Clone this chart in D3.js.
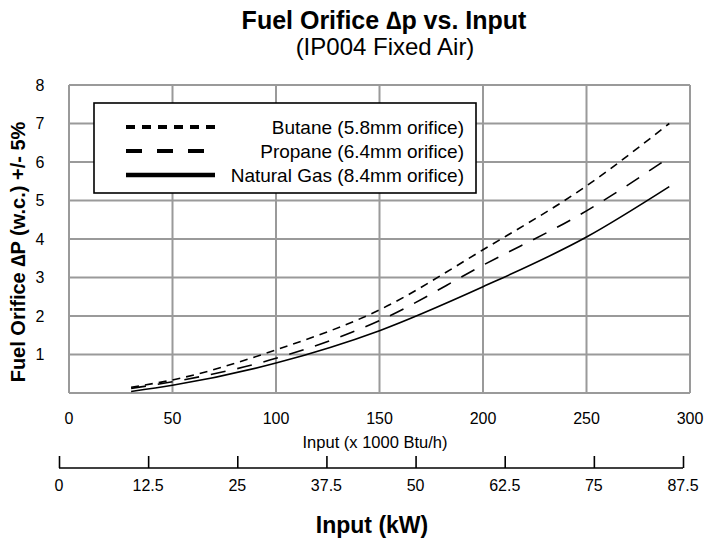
<!DOCTYPE html>
<html><head><meta charset="utf-8">
<script src="https://cdn.jsdelivr.net/npm/d3@7/dist/d3.min.js"></script>
<style>body{margin:0;background:#fff}svg{display:block;font-family:"Liberation Sans",Arial,sans-serif}</style>
</head><body><svg id="c" width="704" height="540"></svg>
<script>
// ---- data ----
const inputs = [30, 50, 100, 150, 200, 250, 290];           // x 1000 Btu/h
const butane = [0.15, 0.34, 1.12, 2.16, 3.72, 5.38, 7.0];
const propane = [0.12, 0.29, 0.90, 1.88, 3.32, 4.73, 6.12];
const naturalGas = [0.04, 0.20, 0.78, 1.62, 2.76, 4.05, 5.36];
const seriesNames = ["Butane (5.8mm orifice)", "Propane (6.4mm orifice)", "Natural Gas (8.4mm orifice)"];
const xTicks = [0, 50, 100, 150, 200, 250, 300];
const yTicks = [1, 2, 3, 4, 5, 6, 7, 8];
const kwTicks = [0, 12.5, 25, 37.5, 50, 62.5, 75, 87.5];

const svg = d3.select("#c");
const x = d3.scaleLinear().domain([0, 300]).range([69, 690]);
const y = d3.scaleLinear().domain([0, 8]).range([393, 85]);
const kw = d3.scaleLinear().domain([0, 87.5]).range([59, 683]);

const styles = [
  {dash: "8,6", legDash: "9,7", w: 1.6, lw: 4},
  {dash: "15,12", legDash: "16,15", w: 1.6, lw: 4},
  {dash: null, legDash: null, w: 1.6, lw: 4.5}
];
const series = [butane, propane, naturalGas].map((v, i) => ({
  name: seriesNames[i], pts: inputs.map((q, j) => [q, v[j]]), st: styles[i]
}));

// grid
const grid = svg.append("g").attr("stroke", "#9a9a9a").attr("stroke-width", 2);
grid.selectAll("line.v").data(xTicks).join("line")
  .attr("x1", d => x(d)).attr("x2", d => x(d)).attr("y1", y(0)).attr("y2", y(8));
grid.selectAll("line.h").data([0].concat(yTicks)).join("line")
  .attr("x1", x(0)).attr("x2", x(300)).attr("y1", d => y(d)).attr("y2", d => y(d));

// y axis labels
svg.append("g").selectAll("text").data(yTicks).join("text")
  .attr("x", 40).attr("y", d => y(d)).attr("dy", "0.35em")
  .attr("text-anchor", "middle").attr("font-size", 16).text(d => d);
// x axis labels
svg.append("g").selectAll("text").data(xTicks).join("text")
  .attr("x", d => x(d)).attr("y", 424)
  .attr("text-anchor", "middle").attr("font-size", 16).text(d => d);

// lines
const line = d3.line().x(d => x(d[0])).y(d => y(d[1])).curve(d3.curveMonotoneX);
svg.append("g").selectAll("path").data(series).join("path")
  .attr("d", d => line(d.pts)).attr("fill", "none").attr("stroke", "#000")
  .attr("stroke-width", d => d.st.w).attr("stroke-dasharray", d => d.st.dash);

// legend
const lg = svg.append("g");
lg.append("rect").attr("x", 94).attr("y", 103).attr("width", 382).attr("height", 90)
  .attr("fill", "#fff").attr("stroke", "#000").attr("stroke-width", 1.6);
const rows = [127, 151, 175];
lg.selectAll("line").data(series).join("line")
  .attr("x1", 126).attr("x2", 215).attr("y1", (d, i) => rows[i]).attr("y2", (d, i) => rows[i])
  .attr("stroke", "#000").attr("stroke-width", d => d.st.lw).attr("stroke-dasharray", d => d.st.legDash);
lg.selectAll("text").data(series).join("text")
  .attr("x", 464).attr("y", (d, i) => rows[i]).attr("dy", "0.35em")
  .attr("text-anchor", "end").attr("font-size", 19).text(d => d.name);

// titles
svg.append("text").attr("x", 384).attr("y", 29).attr("text-anchor", "middle")
  .attr("font-size", 25).attr("font-weight", "bold").text("Fuel Orifice \u2206p vs. Input");
svg.append("text").attr("x", 385).attr("y", 55).attr("text-anchor", "middle")
  .attr("font-size", 24).text("(IP004 Fixed Air)");
svg.append("text").attr("transform", "translate(25,252) rotate(-90)").attr("text-anchor", "middle")
  .attr("font-size", 20).attr("font-weight", "bold").text("Fuel Orifice \u2206P (w.c.) +/- 5%");
svg.append("text").attr("x", 375).attr("y", 448).attr("text-anchor", "middle")
  .attr("font-size", 16.5).text("Input (x 1000 Btu/h)");

// kW axis
const kwAxis = svg.append("g").attr("transform", "translate(0,468)")
  .call(d3.axisTop(kw).tickValues(kwTicks).tickSize(12).tickFormat(""));
kwAxis.select(".domain").attr("stroke-width", 1.6).attr("d", `M${kw(0)},0H${kw(87.5)}`);
kwAxis.selectAll(".tick line").attr("stroke-width", 1.6);
svg.append("g").selectAll("text").data(kwTicks).join("text")
  .attr("x", d => kw(d)).attr("y", 491).attr("text-anchor", "middle")
  .attr("font-size", 16).text(d => d);
svg.append("text").attr("x", 372).attr("y", 533).attr("text-anchor", "middle")
  .attr("font-size", 23).attr("font-weight", "bold").text("Input (kW)");
</script></body></html>
